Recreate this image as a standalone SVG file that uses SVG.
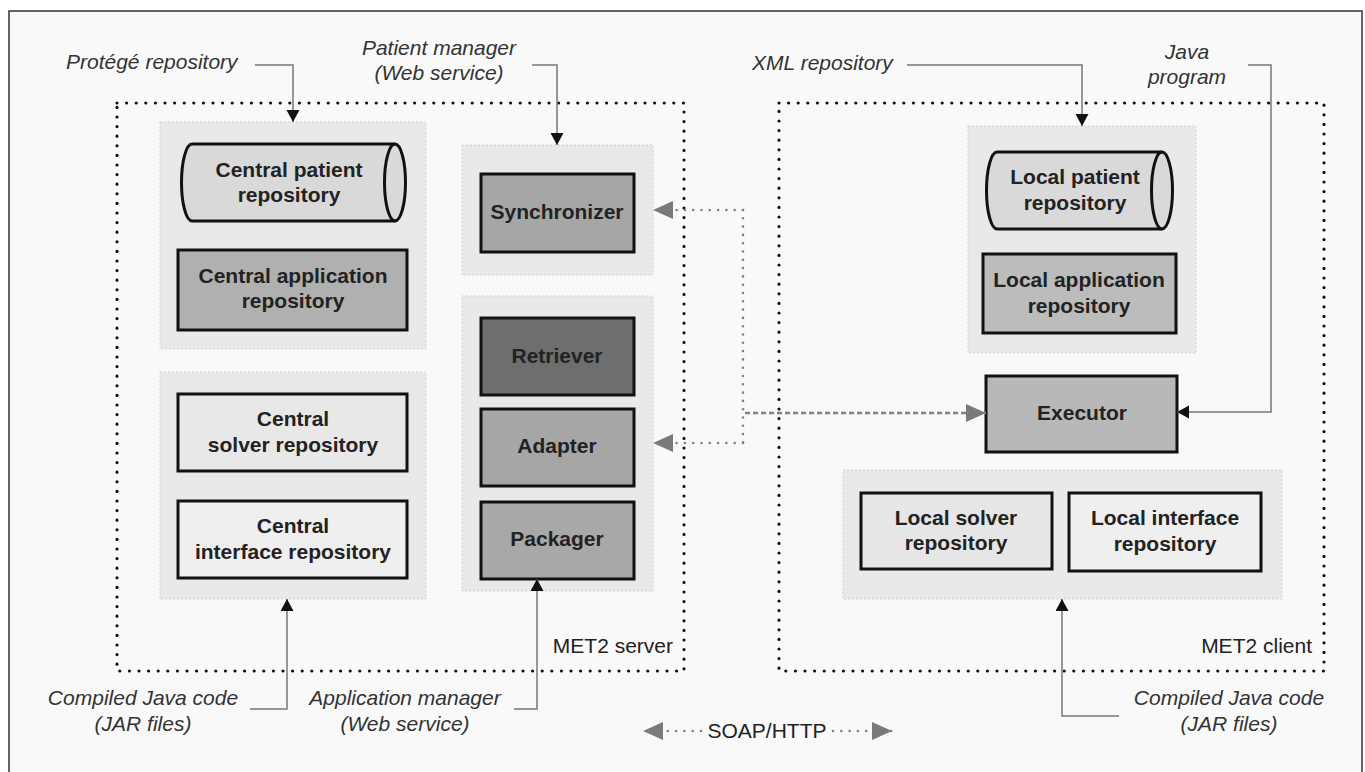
<svg xmlns="http://www.w3.org/2000/svg" width="1365" height="772" viewBox="0 0 1365 772">
<style>
text{font-family:"Liberation Sans",Arial,sans-serif;font-size:21px;fill:#222}
.b{font-weight:bold;text-anchor:middle}
.i{font-style:italic;fill:#333}
.m{text-anchor:middle}
.e{text-anchor:end}
.panel{fill:#e9e9e9;stroke:#d2d2d2;stroke-width:1;stroke-dasharray:2 2}
.node{stroke:#111;stroke-width:3}
.box{fill:none;stroke:#111;stroke-width:3.2;stroke-linecap:round;stroke-dasharray:0 9.6}
.ln{fill:none;stroke:#777;stroke-width:1.5}
.gd{fill:none;stroke:#808080;stroke-width:2.6;stroke-linecap:round;stroke-dasharray:0 8.3}
.gdash{fill:none;stroke:#808080;stroke-width:2.6;stroke-dasharray:5 3}
</style>
<defs>
<marker id="ab" markerUnits="userSpaceOnUse" markerWidth="13" markerHeight="14" refX="12" refY="6.5" orient="auto"><path d="M0,0 L12,6.5 L0,13 z" fill="#111"/></marker>
<marker id="ag" markerUnits="userSpaceOnUse" markerWidth="21" markerHeight="19" refX="20" refY="9" orient="auto"><path d="M0,0 L20,9 L0,18 z" fill="#7a7a7a"/></marker>
</defs>
<rect x="0" y="0" width="1365" height="772" fill="#fff"/>
<rect x="9" y="11" width="1353" height="780" fill="#f9f9f9" stroke="#333" stroke-width="1.5"/>

<g id="met2-server">
<rect class="box" x="117" y="103" width="567" height="568"/>
<text class="e" x="673" y="653">MET2 server</text>
</g>
<g id="met2-client">
<rect class="box" x="779" y="103" width="545" height="568"/>
<text class="e" x="1312" y="653">MET2 client</text>
</g>

<g id="panel-central-data"><rect class="panel" x="160" y="122" width="266" height="227"/></g>
<g id="panel-central-code"><rect class="panel" x="160" y="372" width="266" height="227"/></g>
<g id="panel-sync"><rect class="panel" x="462" y="145" width="191" height="130"/></g>
<g id="panel-app-manager"><rect class="panel" x="462" y="296" width="191" height="295"/></g>
<g id="panel-local-data"><rect class="panel" x="968" y="126" width="228" height="227"/></g>
<g id="panel-local-code"><rect class="panel" x="843" y="470" width="439" height="129"/></g>

<g id="central-patient-repository">
<path class="node" fill="#d9d9d9" d="M192,144 L395,144 A10.5,38.5 0 0 1 395,221 L192,221 A10.5,38.5 0 0 1 192,144 Z"/>
<path class="node" fill="none" d="M395,144 A10.5,38.5 0 0 0 395,221"/>
<text class="b" x="289" y="177">Central patient</text>
<text class="b" x="289" y="202">repository</text>
</g>
<g id="central-application-repository">
<rect class="node" fill="#b0b0b0" x="178" y="250" width="229" height="80"/>
<text class="b" x="293" y="283">Central application</text>
<text class="b" x="293" y="308">repository</text>
</g>
<g id="central-solver-repository">
<rect class="node" fill="#e8e8e8" x="178" y="394" width="229" height="77"/>
<text class="b" x="293" y="426">Central</text>
<text class="b" x="293" y="452">solver repository</text>
</g>
<g id="central-interface-repository">
<rect class="node" fill="#efefef" x="178" y="501" width="229" height="77"/>
<text class="b" x="293" y="533">Central</text>
<text class="b" x="293" y="559">interface repository</text>
</g>
<g id="synchronizer">
<rect class="node" fill="#a6a6a6" x="481" y="174" width="153" height="78"/>
<text class="b" x="557" y="219">Synchronizer</text>
</g>
<g id="retriever">
<rect class="node" fill="#6e6e6e" x="481" y="318" width="153" height="77"/>
<text class="b" x="557" y="363">Retriever</text>
</g>
<g id="adapter">
<rect class="node" fill="#a6a6a6" x="481" y="409" width="153" height="77"/>
<text class="b" x="557" y="453">Adapter</text>
</g>
<g id="packager">
<rect class="node" fill="#a8a8a8" x="481" y="502" width="153" height="77"/>
<text class="b" x="557" y="546">Packager</text>
</g>
<g id="local-patient-repository">
<path class="node" fill="#d9d9d9" d="M997,152 L1162,152 A10.5,38.5 0 0 1 1162,229 L997,229 A10.5,38.5 0 0 1 997,152 Z"/>
<path class="node" fill="none" d="M1162,152 A10.5,38.5 0 0 0 1162,229"/>
<text class="b" x="1075" y="184">Local patient</text>
<text class="b" x="1075" y="210">repository</text>
</g>
<g id="local-application-repository">
<rect class="node" fill="#bcbcbc" x="983" y="254" width="193" height="79"/>
<text class="b" x="1079" y="287">Local application</text>
<text class="b" x="1079" y="313">repository</text>
</g>
<g id="executor">
<rect class="node" fill="#b8b8b8" x="986" y="376" width="191" height="76"/>
<text class="b" x="1082" y="420">Executor</text>
</g>
<g id="local-solver-repository">
<rect class="node" fill="#e6e6e6" x="861" y="493" width="191" height="76"/>
<text class="b" x="956" y="525">Local solver</text>
<text class="b" x="956" y="550">repository</text>
</g>
<g id="local-interface-repository">
<rect class="node" fill="#efefef" x="1069" y="493" width="192" height="78"/>
<text class="b" x="1165" y="525">Local interface</text>
<text class="b" x="1165" y="551">repository</text>
</g>

<g id="labels">
<text class="i" x="66" y="69">Protégé repository</text>
<text class="i m" x="439" y="55">Patient manager</text>
<text class="i m" x="439" y="80">(Web service)</text>
<text class="i" x="752" y="70">XML repository</text>
<text class="i m" x="1187" y="59">Java</text>
<text class="i m" x="1187" y="84">program</text>
<text class="i m" x="143" y="705">Compiled Java code</text>
<text class="i m" x="143" y="731">(JAR files)</text>
<text class="i m" x="405" y="705">Application manager</text>
<text class="i m" x="405" y="731">(Web service)</text>
<text class="i m" x="1229" y="705">Compiled Java code</text>
<text class="i m" x="1229" y="731">(JAR files)</text>
<text class="m" x="767" y="738">SOAP/HTTP</text>
</g>

<g id="connectors">
<path class="ln" marker-end="url(#ab)" d="M255,65 H293 V122"/>
<path class="ln" marker-end="url(#ab)" d="M532,65 H557 V145"/>
<path class="ln" marker-end="url(#ab)" d="M907,65 H1082 V126"/>
<path class="ln" marker-end="url(#ab)" d="M1248,65 H1271 V412 H1177"/>
<path class="ln" marker-end="url(#ab)" d="M250,709 H287 V599"/>
<path class="ln" marker-end="url(#ab)" d="M514,709 H537 V579"/>
<path class="ln" marker-end="url(#ab)" d="M1119,716 H1062 V599"/>
<path class="gd" d="M743,210 V443"/>
<path class="gd" marker-end="url(#ag)" d="M743,210 H653"/>
<path class="gd" marker-end="url(#ag)" d="M743,443 H653"/>
<path class="gdash" marker-end="url(#ag)" d="M745,413 H986"/>
<path class="gd" marker-end="url(#ag)" d="M701,731 H643"/>
<path class="gd" marker-end="url(#ag)" d="M833,731 H892"/>
</g>
</svg>
